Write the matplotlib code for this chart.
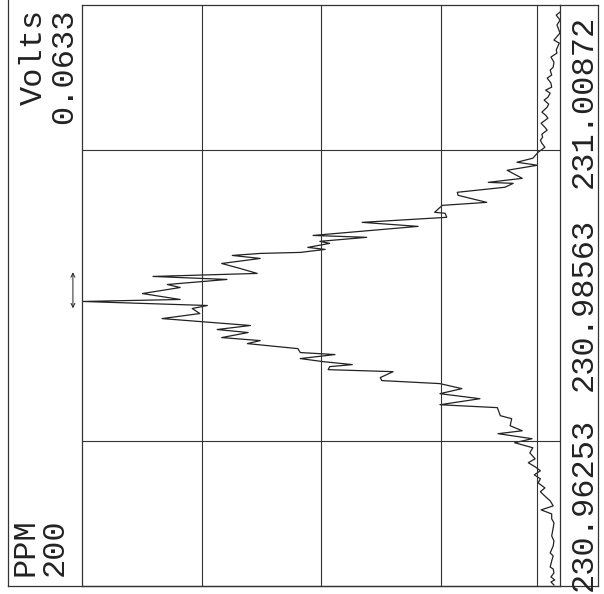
import matplotlib
matplotlib.use("Agg")
import matplotlib.pyplot as plt
from matplotlib.lines import Line2D

# barrido, de menor a mayor frecuencia
# desplazamiento en kHz respecto de 230.96253 MHz
offset_khz = [0.08, 0.32, 0.48, 0.72, 1.04, 1.35, 1.51, 1.99, 2.39, 2.63,
              3.19, 3.58, 3.98, 4.62, 5.02, 5.34, 5.73, 6.05, 6.37, 6.77,
              7.09, 7.49, 7.80, 8.20, 8.52, 8.84, 9.16, 9.48, 9.80, 10.11,
              10.59, 10.99, 11.39, 11.71, 12.11, 12.34, 12.74, 13.30, 13.54, 14.18,
              14.41, 14.89, 15.29, 15.69, 16.09, 16.33, 16.57, 17.04, 17.20, 17.44,
              17.60, 17.84, 18.08, 18.40, 18.56, 18.87, 19.27, 19.51, 19.75, 20.15,
              20.39, 20.71, 21.26, 21.66, 22.06, 22.30, 22.62, 22.78, 23.25, 23.73,
              23.97, 24.37, 24.61, 24.85, 25.25, 25.64, 26.04, 26.28, 26.44, 26.52,
              26.76, 26.92, 27.24, 27.40, 27.72, 27.87, 28.59, 28.91, 29.31, 29.63,
              29.71, 30.26, 30.50, 31.06, 31.30, 31.70, 32.01, 32.09, 32.41, 33.05,
              33.45, 33.69, 34.01, 34.48, 34.88, 35.20, 35.44, 35.68, 35.92, 36.24,
              36.47, 36.79, 37.19, 37.43, 37.67, 38.07, 38.31, 38.63, 38.86, 39.18,
              39.42, 39.66, 39.98, 40.38, 40.62, 41.01, 41.25, 41.65, 42.05, 42.37,
              42.61, 43.16, 43.40, 43.96, 44.60, 44.99, 45.39, 45.63]

# senal en mV
senal_mv = [0.8, 1.2, 0.7, 1.2, 0.8, 0.9, 1.3, 1.1, 0.9, 1.3,
            0.9, 0.8, 1.1, 0.9, 0.8, 1.1, 1.1, 2.5, 0.9, 1.3,
            1.9, 2.6, 2.0, 2.9, 2.6, 3.4, 2.6, 3.3, 4.2, 3.3,
            4.0, 3.6, 6.0, 3.7, 8.2, 5.0, 6.6, 6.4, 7.9, 8.3,
            15.9, 10.6, 15.9, 13.0, 15.9, 23.6, 23.8, 22.1, 30.7, 30.5,
            27.5, 31.4, 34.4, 29.8, 34.4, 34.7, 41.4, 39.7, 44.8, 41.3,
            45.4, 41.0, 52.7, 47.7, 48.7, 46.7, 63.2, 50.3, 55.3, 50.3,
            52.0, 44.1, 53.9, 40.1, 42.4, 44.8, 39.7, 43.4, 39.7, 34.4,
            31.1, 33.4, 30.5, 31.8, 25.6, 32.7, 18.8, 26.2, 15.0, 15.2,
            16.6, 15.6, 9.7, 13.5, 13.6, 7.3, 6.2, 9.5, 5.0, 7.0,
            3.0, 5.7, 3.6, 2.9, 2.0, 2.4, 2.6, 2.3, 2.4, 1.7,
            2.0, 2.5, 1.6, 1.9, 2.4, 1.7, 1.5, 2.1, 1.6, 1.3,
            1.9, 1.1, 1.2, 1.7, 1.1, 1.3, 0.9, 0.8, 1.2, 0.4,
            0.5, 0.1, 0.8, 0.0, 0.4, 0.0, 0.5, 0.0]

freq_labels = ["230.96253", "230.98563", "231.00872"]
escala_volts = ["Volts", "0.0633"]
escala_ppm = ["PPM", "200"]

W, H = 604, 594
tinta = "#222222"
fuente = "Liberation Mono"

fig = plt.figure(figsize=(W / 100, H / 100), dpi=100)


def fx(px):
    return px / W


def fy(py):
    return 1 - py / H


ax = fig.add_axes([fx(82), fy(586), fx(560) - fx(82), fy(5) - fy(586)])
ax.plot(senal_mv, offset_khz, color=tinta, lw=0.9)
ax.set_xlim(63.3, 0)
ax.set_ylim(0, 46.19)
ax.set_xticks([])
ax.set_yticks([])
for s in ax.spines.values():
    s.set_linewidth(0.9)
    s.set_color("#333333")

# reticula
for f in (0.25, 0.5, 0.75):
    ax.plot([f, f], [0, 1], transform=ax.transAxes, color="#333333", lw=0.8)
for f in (0.25, 0.75):
    ax.plot([0, 1], [f, f], transform=ax.transAxes, color="#333333", lw=0.8)
ax.axvline(3.0, color="#333333", lw=0.8)

# marco exterior
marco = [((8, 8), (0, 586)), ((8, 598), (586, 586)),
         ((598, 598), (5, 586)), ((560, 598), (5, 5))]
for xs, ys in marco:
    fig.add_artist(Line2D([fx(v) for v in xs], [fy(v) for v in ys],
                          transform=fig.transFigure, color="#333333", lw=0.9))

# marcador del pico
ax.annotate("", xy=(-0.019, 0.478), xytext=(-0.019, 0.540),
            xycoords="axes fraction", textcoords="axes fraction",
            arrowprops=dict(arrowstyle="<->", lw=0.7, color=tinta,
                            shrinkA=0, shrinkB=0, mutation_scale=7),
            annotation_clip=False)

# textos
fig.text(fx(42), fy(9), escala_volts[0], rotation=90, rotation_mode="anchor",
         ha="right", va="baseline", fontsize=23, family=fuente, color=tinta)
fig.text(fx(72), fy(9), escala_volts[1], rotation=90, rotation_mode="anchor",
         ha="right", va="baseline", fontsize=23, family=fuente, color=tinta)
fig.text(fx(34), fy(576), escala_ppm[0], rotation=90, rotation_mode="anchor",
         ha="left", va="baseline", fontsize=23, family=fuente, color=tinta)
fig.text(fx(63), fy(576), escala_ppm[1], rotation=90, rotation_mode="anchor",
         ha="left", va="baseline", fontsize=23, family=fuente, color=tinta)

for lab, yc in zip(freq_labels, (504, 304, 101)):
    fig.text(fx(592), fy(yc), lab, rotation=90, rotation_mode="anchor",
             ha="center", va="baseline", fontsize=23, family=fuente, color=tinta)

fig.savefig("out.png", dpi=100)
